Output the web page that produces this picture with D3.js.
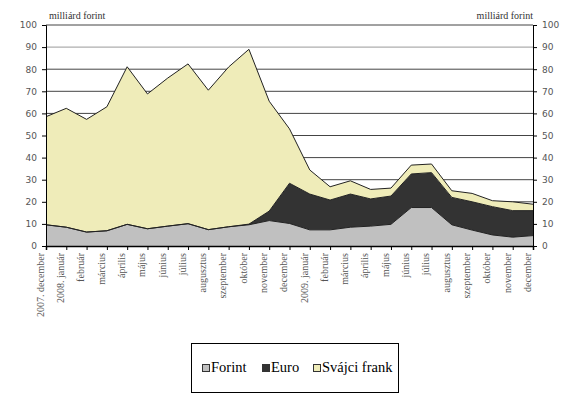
<!DOCTYPE html>
<html><head><meta charset="utf-8">
<script src="https://cdn.jsdelivr.net/npm/d3@7"></script>
<style>body{margin:0;background:#fff}</style>
</head><body>
<script>
const categories = ["2007. december","2008. január","február","március","április","május","június","július","augusztus","szeptember","október","november","december","2009. január","február","március","április","május","június","július","augusztus","szeptember","október","november","december"];
const forint = [9.6,8.5,6.3,6.9,9.8,7.8,9.0,10.1,7.4,8.7,9.6,11.5,10.2,7.3,7.3,8.5,9.0,9.8,17.4,17.4,9.6,7.2,5.0,4.0,4.7];
const euro   = [0,0,0,0,0,0,0,0,0,0,0.3,4.3,18.2,16.2,13.5,15.0,12.3,12.8,15.2,15.8,12.4,12.8,12.8,12.0,11.3];
const svajci = [48.9,53.8,51.0,56.1,71.3,61.0,67.0,72.3,63.1,72.3,79.1,49.7,24.6,10.9,6.0,6.0,4.3,3.6,4.0,3.9,3.0,3.8,2.7,4.0,2.9];
const seriesNames = ["Forint","Euro","Svájci frank"];
const colors = ["#c0c0c0","#333333","#efecb9"];
const yTicks = [0,10,20,30,40,50,60,70,80,90,100];
const unitLabel = "milliárd forint";

const SERIF="Liberation Serif", SANS="DejaVu Sans";
const W=580,H=418;
const svg=d3.select("body").append("svg").attr("width",W).attr("height",H);
const x=d3.scalePoint().domain(categories.map((c,i)=>i)).range([46,533]);
const y=d3.scaleLinear().domain([0,100]).range([246,25]);

const rows=categories.map((c,i)=>({i,Forint:forint[i],Euro:euro[i],"Svájci frank":svajci[i]}));
const stack=d3.stack().keys(seriesNames)(rows);

svg.append("g").selectAll("line").data(yTicks.slice(1)).join("line")
 .attr("x1",46).attr("x2",533).attr("y1",d=>y(d)).attr("y2",d=>y(d))
 .attr("stroke",(d)=>d===90?"#999":"#444").attr("stroke-width",1);

const area=d3.area().x(d=>x(d.data.i)).y0(d=>y(d[0])).y1(d=>y(d[1]));
const line=d3.line().x(d=>x(d.data.i)).y(d=>y(d[1]));
svg.append("g").selectAll("path").data(stack).join("path")
 .attr("d",area).attr("fill",(d,i)=>colors[i]);
svg.append("g").selectAll("path").data(stack).join("path")
 .attr("d",line).attr("fill","none").attr("stroke","#222").attr("stroke-width",1);

const la=svg.append("g").attr("transform","translate(46,0)").call(d3.axisLeft(y).tickValues(yTicks).tickSize(4).tickPadding(5));
const ra=svg.append("g").attr("transform","translate(533,0)").call(d3.axisRight(y).tickValues(yTicks).tickSize(4).tickPadding(5));
[la,ra].forEach(a=>{a.attr("font-family",SANS).attr("font-size",9);a.select(".domain").attr("stroke","#000");a.selectAll(".tick line").attr("stroke","#000");
 a.selectAll("text").attr("fill","#555");});
const xa=svg.append("g").attr("transform","translate(0,246)").call(d3.axisBottom(x).tickSize(4).tickFormat(i=>categories[i]));
xa.attr("font-family",SERIF).attr("font-size",10);
xa.select(".domain").attr("stroke","#000").attr("stroke-width",1.5);
xa.selectAll(".tick line").attr("stroke","#000");
xa.selectAll("text").attr("fill","#555")
 .attr("transform","rotate(-90)").attr("text-anchor","end").attr("dx",-7).attr("dy",-5).attr("y",0).attr("x",0)
 .attr("dominant-baseline","middle");

svg.append("text").attr("font-family",SERIF).attr("x",49).attr("y",19).text(unitLabel).attr("font-size",10).attr("fill","#333");
svg.append("text").attr("font-family",SERIF).attr("x",533).attr("y",19).attr("text-anchor","end").text(unitLabel).attr("font-size",10).attr("fill","#333");

const lg=svg.append("g");
lg.append("rect").attr("x",191.5).attr("y",343.5).attr("width",207).attr("height",49).attr("fill","#fff").attr("stroke","#000");
const lx=[202,262,313];
seriesNames.forEach((n,i)=>{
 lg.append("rect").attr("x",lx[i]+0.5).attr("y",364.5).attr("width",7).attr("height",7).attr("fill",colors[i]).attr("stroke","#333");
 lg.append("text").attr("font-family",SERIF).attr("x",lx[i]+9).attr("y",372).text(n).attr("font-size",14.5).attr("fill","#000");
});
</script>
</body></html>
